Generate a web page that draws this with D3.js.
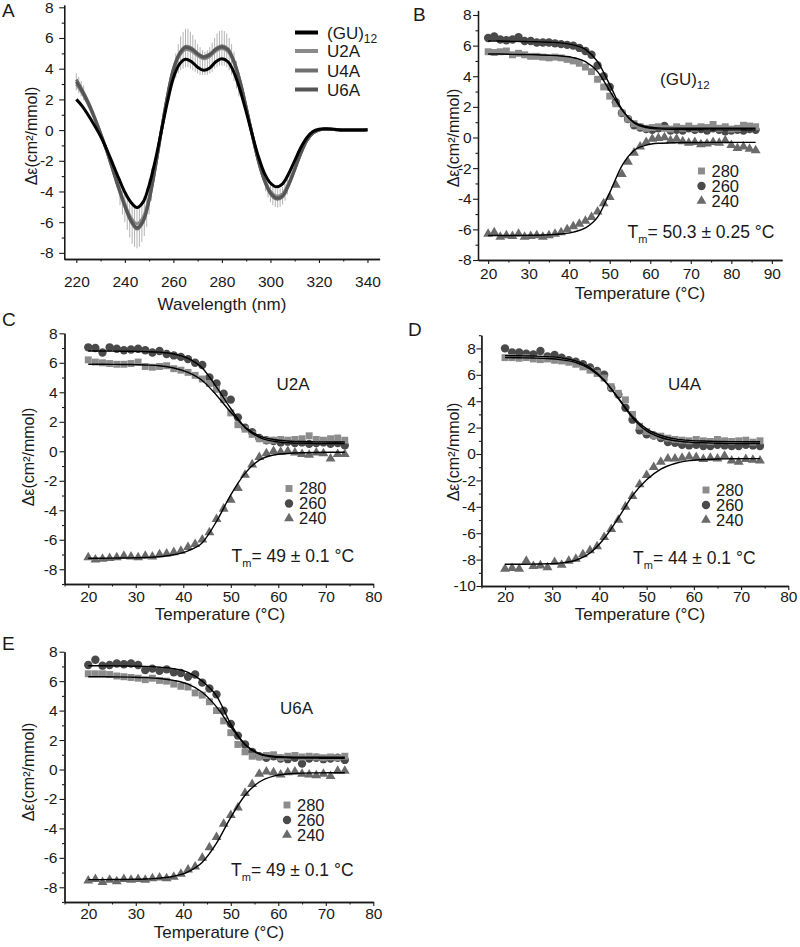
<!DOCTYPE html>
<html>
<head>
<meta charset="utf-8">
<script src="https://cdn.jsdelivr.net/npm/d3@7"></script>
<style>
  body { margin: 0; background: #fff; }
</style>
</head>
<body>
<script>
// ---------- panel A : CD spectra ----------
const wavelengths = [220,222.5,225,227.5,230,232.5,235,237.5,240,242.5,245,247.5,250,252.5,255,257.5,260,262.5,265,267.5,270,272.5,275,277.5,280,282.5,285,287.5,290,292.5,295,297.5,300,302.5,305,307.5,310,312.5,315,317.5,320,322.5,325,327.5,330,332.5,335,337.5,340]
const specGU12 = [2.0,1.55,0.95,0.3,-0.4,-1.25,-2.2,-3.15,-4.05,-4.7,-5.05,-4.7,-3.6,-2.0,-0.1,1.8,3.4,4.3,4.62,4.45,4.1,3.9,4.05,4.45,4.65,4.45,3.75,2.6,1.2,-0.3,-1.7,-2.8,-3.45,-3.7,-3.5,-2.85,-2.0,-1.15,-0.5,-0.1,0.05,0.08,0.07,0.03,0.0,0.0,0.0,0.0,0.02]
const specU2A = [3.0,2.4,1.65,0.75,-0.25,-1.3,-2.5,-3.7,-4.8,-5.7,-6.1,-5.7,-4.4,-2.4,-0.1,2.1,3.85,4.85,5.25,5.15,4.85,4.65,4.8,5.15,5.32,5.12,4.35,3.1,1.45,-0.3,-1.95,-3.2,-3.98,-4.3,-4.15,-3.45,-2.5,-1.5,-0.66,-0.2,0.0,0.05,0.05,0.02,0.0,0.0,0.0,0.0,0.02]
const specU4A = [3.3,2.6,1.8,0.85,-0.2,-1.35,-2.6,-3.85,-5.0,-5.95,-6.45,-6.0,-4.6,-2.5,-0.1,2.2,4.0,5.0,5.45,5.35,5.0,4.8,4.95,5.3,5.5,5.3,4.5,3.2,1.5,-0.3,-2.0,-3.3,-4.15,-4.5,-4.35,-3.6,-2.6,-1.55,-0.7,-0.2,0.0,0.05,0.05,0.02,0.0,0.0,0.0,0.0,0.02]
const specU6A = [3.15,2.5,1.72,0.8,-0.22,-1.33,-2.55,-3.78,-4.92,-5.87,-6.35,-5.92,-4.55,-2.48,-0.1,2.15,3.95,4.95,5.38,5.28,4.95,4.75,4.9,5.25,5.42,5.22,4.45,3.15,1.48,-0.3,-1.97,-3.25,-4.08,-4.42,-4.28,-3.55,-2.56,-1.52,-0.68,-0.2,0.0,0.05,0.05,0.02,0.0,0.0,0.0,0.0,0.02]

// error bars (low / high ends)
const errWl = [220,221,222,223,
  238,239,240,241,242,243,244,245,246,247,248,249,250,251,
  261,262,263,264,265,266,267,268,269,270,271,272,273,274,275,276,277,278,279,280,281,282,283,284,285,286,287,
  298,299,300,301,302,303,304,305,306,307,308]
const errLo = [2.6,2.4,2.2,1.95,
  -4.9,-5.5,-6.0,-6.5,-7.0,-7.4,-7.6,-7.7,-7.6,-7.3,-6.9,-6.3,-5.5,-4.6,
  3.4,3.7,3.9,4.0,4.1,4.1,4.0,3.9,3.8,3.7,3.6,3.6,3.6,3.6,3.7,3.8,4.0,4.1,4.2,4.2,4.2,4.1,3.9,3.6,3.2,2.7,2.2,
  -4.0,-4.4,-4.7,-4.9,-5.0,-5.05,-5.0,-4.85,-4.6,-4.2,-3.7]
const errHi = [3.7,3.45,3.2,2.9,
  -3.2,-3.6,-4.0,-4.3,-4.6,-4.8,-4.95,-5.0,-4.9,-4.7,-4.3,-3.8,-3.2,-2.5,
  5.0,5.6,6.1,6.4,6.6,6.6,6.4,6.2,5.9,5.6,5.4,5.2,5.1,5.2,5.4,5.7,6.0,6.3,6.45,6.5,6.45,6.3,6.0,5.6,5.1,4.5,3.8,
  -3.0,-3.3,-3.5,-3.7,-3.8,-3.85,-3.8,-3.7,-3.5,-3.2,-2.8]

// ---------- melting curves ----------
const tempsB = [20,21.5,23,24.5,26,27.5,29,30.5,32,33.5,35,36.5,38,39.5,41,42.5,44,45.5,47,48.5,50,51.5,53,54.5,56,57.5,59,60.5,62,63.5,65,66.5,68,69.5,71,72.5,74,75.5,77,78.5,80,81.5,83,84.5,86]
const temps = [20,21.5,23,24.5,26,27.5,29,30.5,32,33.5,35,36.5,38,39.5,41,42.5,44,45.5,47,48.5,50,51.5,53,54.5,56,57.5,59,60.5,62,63.5,65,66.5,68,69.5,71,72.5,74]
const fitTempsB = [20,23,26,29,32,35,38,41,44,47,50,53,56,59,62,65,68,71,74,77,80,83,86]
const fitTemps = [20,23,26,29,32,35,38,41,44,47,50,53,56,59,62,65,68,71,74]

// (GU)12
const b260 = [6.5,6.6,6.4,6.35,6.4,6.55,6.3,6.3,6.2,6.2,6.2,6.15,6.1,6.05,6.0,5.85,5.65,5.4,4.7,4.0,3.3,2.3,1.6,1.2,0.8,0.65,0.55,0.5,0.6,0.75,0.45,0.5,0.45,0.6,0.5,0.55,0.45,0.6,0.5,0.4,0.45,0.5,0.45,0.55,0.5]
const b280 = [5.6,5.55,5.6,5.65,5.4,5.5,5.4,5.3,5.3,5.25,5.2,5.25,5.2,5.1,5.0,4.85,4.6,4.3,3.8,3.3,2.7,2.2,1.6,1.2,0.9,0.7,0.6,0.65,0.7,0.6,0.55,0.7,0.6,0.75,0.6,0.7,0.65,0.85,0.6,0.7,0.55,0.6,0.8,0.75,0.7]
const b240 = [-6.3,-6.2,-6.5,-6.4,-6.45,-6.3,-6.5,-6.45,-6.4,-6.5,-6.4,-6.3,-6.2,-6.0,-5.8,-5.65,-5.45,-5.2,-4.85,-4.3,-3.9,-3.1,-2.4,-1.6,-1.0,-0.6,-0.3,-0.1,-0.05,0.0,-0.2,-0.1,-0.25,-0.35,-0.3,-0.45,-0.4,-0.3,-0.35,-0.2,-0.5,-0.7,-0.6,-0.75,-0.85]
const b260fit = [6.3,6.3,6.28,6.27,6.25,6.22,6.18,6.05,5.75,4.95,3.45,1.85,0.95,0.65,0.56,0.53,0.52,0.51,0.5,0.5,0.5,0.5,0.5]
const b280fit = [5.45,5.45,5.43,5.42,5.4,5.37,5.32,5.22,4.95,4.3,3.05,1.8,1.0,0.72,0.63,0.61,0.6,0.6,0.6,0.6,0.6,0.6,0.6]
const b240fit = [-6.4,-6.4,-6.4,-6.39,-6.38,-6.35,-6.3,-6.18,-5.9,-5.2,-3.6,-1.85,-0.85,-0.5,-0.38,-0.35,-0.33,-0.33,-0.32,-0.32,-0.32,-0.32,-0.32]

// U2A
const c260 = [7.05,7.0,6.7,7.05,6.95,6.85,6.9,6.95,6.85,6.7,6.8,6.6,6.5,6.4,6.25,6.0,5.85,5.0,4.6,3.9,3.5,2.3,1.6,1.3,0.9,0.75,0.7,0.6,0.65,0.55,0.6,0.5,0.55,0.6,0.5,0.55,0.4]
const c280 = [6.2,6.05,6.0,5.95,5.9,5.9,5.95,6.05,5.75,5.7,5.75,5.8,5.6,5.5,5.35,5.15,4.9,4.6,4.2,3.5,2.6,1.8,1.5,1.15,0.85,0.75,0.75,0.8,0.75,0.8,0.85,1.05,0.8,0.75,0.85,0.9,0.75]
const c240 = [-7.2,-7.35,-7.3,-7.25,-7.2,-7.1,-7.15,-7.2,-7.1,-7.15,-7.0,-6.95,-6.85,-6.75,-6.5,-6.3,-6.0,-5.5,-4.6,-3.9,-3.3,-2.5,-1.6,-0.9,-0.4,-0.15,0.0,-0.05,0.0,-0.1,-0.2,-0.25,-0.1,-0.15,-0.5,-0.2,-0.2]
const c260fit = [6.8,6.8,6.79,6.78,6.76,6.72,6.6,6.3,5.65,4.35,2.9,1.6,0.95,0.68,0.58,0.55,0.53,0.52,0.52]
const c280fit = [5.9,5.9,5.89,5.88,5.85,5.8,5.65,5.35,4.8,3.8,2.65,1.65,1.05,0.8,0.7,0.66,0.64,0.63,0.63]
const c240fit = [-7.25,-7.25,-7.24,-7.23,-7.2,-7.15,-7.02,-6.75,-6.2,-4.75,-2.95,-1.5,-0.6,-0.25,-0.15,-0.1,-0.08,-0.07,-0.07]

// U4A
const d260 = [8.0,7.7,7.7,7.6,7.55,7.8,7.4,7.5,7.3,7.1,7.0,6.8,6.55,6.3,6.0,5.0,4.5,3.5,2.6,1.8,1.5,1.4,1.2,0.9,0.85,0.7,0.65,0.7,0.6,0.6,0.7,0.65,0.6,0.6,0.7,0.65,0.6]
const d280 = [7.3,7.3,7.25,7.3,7.2,7.15,7.2,7.1,7.05,6.95,6.8,6.6,6.35,6.1,5.75,5.1,4.6,4.1,3.0,2.1,1.7,1.4,1.35,1.2,1.1,1.05,1.0,1.1,1.0,0.95,1.1,1.0,0.95,1.0,1.05,0.9,1.0]
const d240 = [-8.7,-8.65,-8.7,-8.1,-8.5,-8.45,-8.6,-8.2,-8.4,-8.1,-7.95,-7.6,-7.3,-7.0,-6.3,-5.7,-5.0,-4.0,-3.2,-2.3,-1.6,-1.0,-0.6,-0.35,-0.35,-0.3,-0.2,-0.25,-0.4,-0.3,-0.35,-0.15,-0.5,-0.6,-0.4,-0.45,-0.5]
const d260fit = [7.45,7.44,7.42,7.38,7.28,7.05,6.55,5.6,4.2,2.75,1.75,1.25,1.0,0.9,0.85,0.82,0.8,0.8,0.8]
const d280fit = [7.3,7.29,7.27,7.23,7.13,6.93,6.45,5.55,4.25,2.85,1.9,1.4,1.15,1.03,0.98,0.95,0.94,0.93,0.93]
const d240fit = [-8.35,-8.35,-8.34,-8.32,-8.25,-8.05,-7.5,-6.4,-4.85,-3.15,-1.95,-1.15,-0.72,-0.5,-0.42,-0.38,-0.36,-0.35,-0.35]

// U6A
const e260 = [7.1,7.45,7.05,7.1,7.2,7.15,7.2,7.1,6.75,6.85,6.7,6.8,6.6,6.55,6.3,6.45,5.9,5.5,5.1,4.0,3.1,2.3,1.7,1.2,0.9,0.8,0.9,0.75,0.7,0.8,0.4,0.75,0.8,0.7,0.75,0.8,0.65]
const e280 = [6.5,6.5,6.5,6.45,6.35,6.3,6.25,6.2,6.1,6.2,6.05,6.0,5.8,5.65,5.6,5.2,5.05,4.6,4.0,3.3,2.5,1.7,1.2,0.9,0.85,0.95,1.0,0.8,0.9,0.95,0.85,0.9,0.85,0.8,0.85,0.8,0.9]
const e240 = [-7.55,-7.45,-7.65,-7.5,-7.6,-7.45,-7.5,-7.45,-7.5,-7.4,-7.35,-7.4,-7.3,-7.1,-6.8,-6.6,-6.0,-5.3,-4.6,-3.7,-3.1,-2.6,-1.6,-1.0,-0.3,-0.15,-0.2,-0.35,-0.2,-0.15,-0.3,-0.35,-0.4,-0.3,-0.45,-0.1,-0.1]
const e260fit = [7.05,7.05,7.04,7.02,7.0,6.95,6.85,6.6,6.0,5.0,3.1,1.7,1.05,0.85,0.8,0.78,0.77,0.76,0.76]
const e280fit = [6.3,6.3,6.29,6.27,6.24,6.18,6.05,5.8,5.25,4.25,2.9,1.7,1.1,0.9,0.85,0.83,0.83,0.83,0.83]
const e240fit = [-7.48,-7.48,-7.47,-7.46,-7.44,-7.38,-7.25,-6.95,-6.3,-5.0,-3.25,-1.75,-0.85,-0.45,-0.3,-0.25,-0.23,-0.22,-0.22]

const font = "'Liberation Sans', Arial, Helvetica, sans-serif"
const ink = "#1a1a1a"
const yTitle = "Δε(cm²/mmol)"

const svg = d3.select("body").append("svg")
    .attr("width", 800)
    .attr("height", 947)
    .attr("font-family", font)

function addAxes(x, y, o) {
    const g = svg.append("g")
    const xb = y.range()[0], yl = x.range()[0]
    g.append("g").attr("transform", "translate(0," + xb + ")")
        .call(d3.axisBottom(x).tickValues(o.xMinor).tickSize(2.5).tickFormat("").tickSizeOuter(0))
    g.append("g").attr("transform", "translate(" + yl + ",0)")
        .call(d3.axisLeft(y).tickValues(o.yMinor).tickSize(2.5).tickFormat("").tickSizeOuter(0))
    g.append("g").attr("transform", "translate(0," + xb + ")")
        .call(d3.axisBottom(x).tickValues(o.xTicks).tickSize(4).tickPadding(o.xPad)
            .tickSizeOuter(0).tickFormat(d => d))
    g.append("g").attr("transform", "translate(" + yl + ",0)")
        .call(d3.axisLeft(y).tickValues(o.yTicks).tickSize(5).tickPadding(o.yPad)
            .tickSizeOuter(0).tickFormat(d => d))
    g.selectAll("text").attr("font-size", 15.5).attr("font-family", font).attr("fill", ink)
    g.selectAll("path.domain").attr("stroke", ink).attr("stroke-width", 1.3)
    g.selectAll("line").attr("stroke", ink).attr("stroke-width", 1.1)

    // titles
    svg.append("text")
        .attr("x", o.xTitle[0]).attr("y", o.xTitle[1])
        .attr("text-anchor", "middle").attr("dy", "0.35em")
        .attr("font-size", 17).attr("fill", ink)
        .text(o.xLabel)
    svg.append("text")
        .attr("transform", "translate(" + o.yTitle[0] + "," + o.yTitle[1] + ") rotate(-90)")
        .attr("text-anchor", "middle").attr("dy", "0.35em")
        .attr("font-size", 16).attr("fill", ink)
        .text(yTitle)
    svg.append("text")
        .attr("x", o.letter[0]).attr("y", o.letter[1])
        .attr("font-size", 19).attr("fill", ink)
        .text(o.letterText)
}

// ---------- draw panel A ----------
const xA = d3.scaleLinear().domain([215, 345]).range([64.2, 379.6])
const yA = d3.scaleLinear().domain([-8.4, 8.15]).range([259, 5])

addAxes(xA, yA, {
    xTicks: [220,240,260,280,300,320,340], xMinor: [230,250,270,290,310,330],
    yTicks: [-8,-6,-4,-2,0,2,4,6,8], yMinor: [-7,-5,-3,-1,1,3,5,7],
    xPad: 13, yPad: 5.5,
    xTitle: [222, 304], xLabel: "Wavelength (nm)",
    yTitle: [31.5, 136], letter: [2, 17], letterText: "A"
})

svg.append("g").selectAll("line")
    .data(errWl)
    .join("line")
    .attr("x1", d => xA(d)).attr("x2", d => xA(d))
    .attr("y1", (d, i) => yA(errLo[i])).attr("y2", (d, i) => yA(errHi[i]))
    .attr("stroke", "#a0a0a0").attr("stroke-width", 0.8)

const spectra = [
    {name: "U2A", vals: specU2A, color: "#8a8a8a"},
    {name: "U4A", vals: specU4A, color: "#707070"},
    {name: "U6A", vals: specU6A, color: "#555555"},
    {name: "(GU)", vals: specGU12, color: "#000000"}
]
const specLine = d3.line()
    .x((d, i) => xA(wavelengths[i]))
    .y(d => yA(d))
    .curve(d3.curveCatmullRom.alpha(0.5))

svg.append("g").selectAll("path")
    .data(spectra)
    .join("path")
    .attr("d", d => specLine(d.vals))
    .attr("fill", "none")
    .attr("stroke", d => d.color)
    .attr("stroke-width", 3)

// legend A
const legA = [
    {name: "(GU)", sub: "12", color: "#000000"},
    {name: "U2A", color: "#8a8a8a"},
    {name: "U4A", color: "#707070"},
    {name: "U6A", color: "#555555"}
]
const legRows = [32.5, 51, 70.5, 89.5]
legA.forEach((d, i) => {
    svg.append("line")
        .attr("x1", 295).attr("x2", 318).attr("y1", legRows[i]).attr("y2", legRows[i])
        .attr("stroke", d.color).attr("stroke-width", 4)
    const t = svg.append("text")
        .attr("x", 327).attr("y", legRows[i]).attr("dy", "0.36em")
        .attr("font-size", 17).attr("fill", ink)
    t.append("tspan").text(d.name)
    if (d.sub) t.append("tspan").attr("font-size", 12).attr("dy", 4).text(d.sub)
})

// ---------- melting panels ----------
const markers = {
    "260": {shape: d3.symbolCircle, size: 55, color: "#4a4a4a"},
    "280": {shape: d3.symbolSquare, size: 48, color: "#8c8c8c"},
    "240": {shape: d3.symbolTriangle, size: 42, color: "#6a6a6a"}
}

function meltPanel(p) {
    const x = d3.scaleLinear().domain(p.xDomain).range(p.xRange)
    const y = d3.scaleLinear().domain(p.yDomain).range(p.yRange)
    addAxes(x, y, p)

    const series = [
        {key: "260", vals: p.v260, fit: p.f260},
        {key: "280", vals: p.v280, fit: p.f280},
        {key: "240", vals: p.v240, fit: p.f240}
    ]
    series.forEach(s => {
        const m = markers[s.key]
        svg.append("g").selectAll("path")
            .data(s.vals)
            .join("path")
            .attr("transform", (d, i) => "translate(" + x(p.temps[i]) + "," + y(d) + ")")
            .attr("d", d3.symbol(m.shape, m.size))
            .attr("fill", m.color)
    })

    const fitLine = d3.line()
        .x((d, i) => x(p.fitTemps[i]))
        .y(d => y(d))
        .curve(d3.curveMonotoneX)
    series.forEach(s => {
        svg.append("path")
            .attr("d", fitLine(s.fit))
            .attr("fill", "none")
            .attr("stroke", "#000")
            .attr("stroke-width", 1.4)
    })

    // legend
    ;["280", "260", "240"].forEach((k, i) => {
        const m = markers[k]
        const ly = p.legend[1] + i * 15
        svg.append("path")
            .attr("transform", "translate(" + p.legend[0] + "," + ly + ")")
            .attr("d", d3.symbol(m.shape, m.size))
            .attr("fill", m.color)
        svg.append("text")
            .attr("x", p.legend[0] + 10).attr("y", ly).attr("dy", "0.36em")
            .attr("font-size", 16.5).attr("fill", ink)
            .text(k)
    })

    // name of the construct
    const nt = svg.append("text")
        .attr("x", p.name[0]).attr("y", p.name[1])
        .attr("font-size", 17).attr("fill", ink)
    nt.append("tspan").text(p.nameText)
    if (p.nameSub) nt.append("tspan").attr("font-size", 11.5).attr("dy", 4).text(p.nameSub)

    // melting temperature
    const tm = svg.append("text")
        .attr("x", p.tm[0]).attr("y", p.tm[1])
        .attr("font-size", 17.5).attr("fill", ink)
    tm.append("tspan").text("T")
    tm.append("tspan").attr("font-size", 11).attr("dy", 5).text("m")
    tm.append("tspan").attr("dy", -5).text("= " + p.tmText)
}

const tempMinor = [15,25,35,45,55,65,75]

meltPanel({
    temps: tempsB, fitTemps: fitTempsB,
    v260: b260, v280: b280, v240: b240, f260: b260fit, f280: b280fit, f240: b240fit,
    xDomain: [17.5, 92.5], xRange: [478, 782],
    yDomain: [-8, 8.3], yRange: [260, 10.4],
    xTicks: [20,30,40,50,60,70,80,90], xMinor: [25,35,45,55,65,75,85],
    yTicks: [-8,-6,-4,-2,0,2,4,6,8], yMinor: [-7,-5,-3,-1,1,3,5,7],
    xPad: 4, yPad: 1.3,
    xTitle: [640, 293], xLabel: "Temperature (°C)",
    yTitle: [453.5, 138], letter: [413, 21], letterText: "B",
    legend: [701.5, 171], name: [660, 85], nameText: "(GU)", nameSub: "12",
    tm: [627.5, 238], tmText: "50.3 ± 0.25 °C"
})

meltPanel({
    temps: temps, fitTemps: fitTemps,
    v260: c260, v280: c280, v240: c240, f260: c260fit, f280: c280fit, f240: c240fit,
    xDomain: [15, 80], xRange: [64.5, 373.3],
    yDomain: [-9, 8], yRange: [584, 333.3],
    xTicks: [20,30,40,50,60,70,80], xMinor: tempMinor,
    yTicks: [-8,-6,-4,-2,0,2,4,6,8], yMinor: [-9,-7,-5,-3,-1,1,3,5,7],
    xPad: 2.5, yPad: 2,
    xTitle: [220, 614], xLabel: "Temperature (°C)",
    yTitle: [28.5, 457], letter: [2, 326], letterText: "C",
    legend: [289, 488.5], name: [276.5, 390], nameText: "U2A",
    tm: [231.5, 562], tmText: "49 ± 0.1 °C"
})

meltPanel({
    temps: temps, fitTemps: fitTemps,
    v260: d260, v280: d280, v240: d240, f260: d260fit, f280: d280fit, f240: d240fit,
    xDomain: [15, 80], xRange: [481.4, 788.3],
    yDomain: [-10, 9], yRange: [586, 335.2],
    xTicks: [20,30,40,50,60,70,80], xMinor: tempMinor,
    yTicks: [-10,-8,-6,-4,-2,0,2,4,6,8], yMinor: [-9,-7,-5,-3,-1,1,3,5,7,9],
    xPad: 0.5, yPad: 0.5,
    xTitle: [640, 614], xLabel: "Temperature (°C)",
    yTitle: [453.5, 452], letter: [408, 336], letterText: "D",
    legend: [706, 490], name: [668, 390], nameText: "U4A",
    tm: [633, 563.5], tmText: "44 ± 0.1 °C"
})

meltPanel({
    temps: temps, fitTemps: fitTemps,
    v260: e260, v280: e280, v240: e240, f260: e260fit, f280: e280fit, f240: e240fit,
    xDomain: [15, 80], xRange: [64.5, 373.3],
    yDomain: [-9, 8], yRange: [902, 651.7],
    xTicks: [20,30,40,50,60,70,80], xMinor: tempMinor,
    yTicks: [-8,-6,-4,-2,0,2,4,6,8], yMinor: [-9,-7,-5,-3,-1,1,3,5,7],
    xPad: 2, yPad: 2,
    xTitle: [219, 932], xLabel: "Temperature (°C)",
    yTitle: [28.5, 772], letter: [2, 650], letterText: "E",
    legend: [287, 805], name: [280, 714], nameText: "U6A",
    tm: [231, 876], tmText: "49 ± 0.1 °C"
})
</script>
</body>
</html>
